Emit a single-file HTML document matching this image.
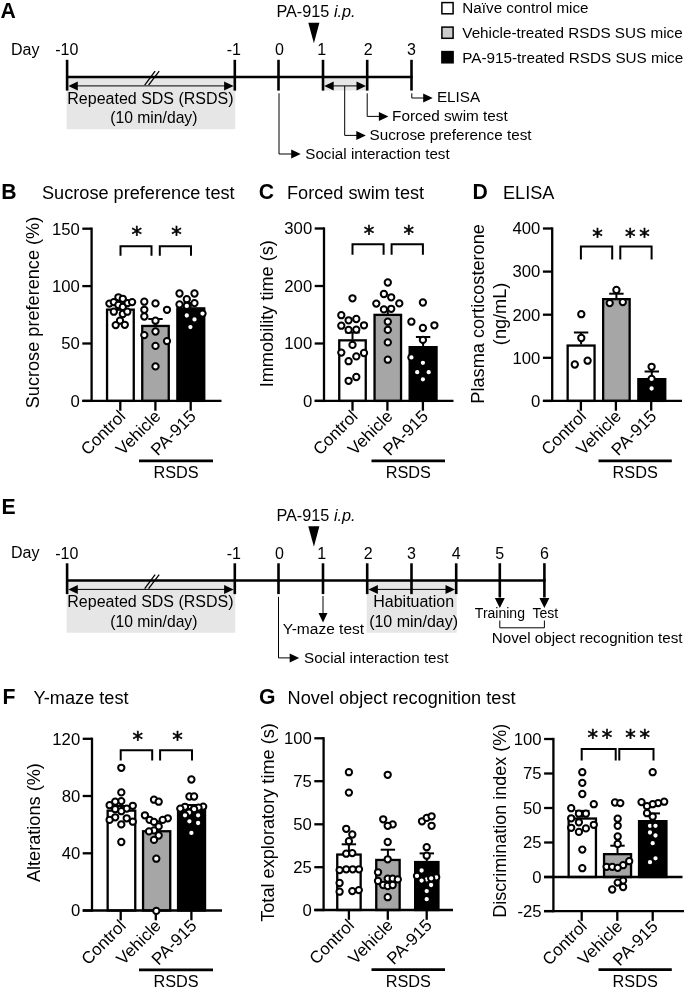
<!DOCTYPE html>
<html lang="en"><head><meta charset="utf-8"><title>Figure</title>
<style>html,body{margin:0;padding:0;background:#fff}svg{display:block}text{font-family:'Liberation Sans', sans-serif;fill:#000}</style></head><body>
<svg width="685" height="989" viewBox="0 0 685 989">
<rect width="685" height="989" fill="#fff"/>
<text x="0.60" y="18.20" font-size="21.2" text-anchor="start" font-weight="bold">A</text>
<text x="1.60" y="514.20" font-size="21.2" text-anchor="start" font-weight="bold">E</text>
<text x="11.00" y="54.70" font-size="16" text-anchor="start">Day</text>
<rect x="66.60" y="77.00" width="168.70" height="52.2" fill="#e6e6e6"/>
<rect x="323.00" y="77.00" width="44.20" height="13.5" fill="#e6e6e6"/>
<line x1="67.10" y1="77.00" x2="412.80" y2="77.00" stroke="#000" stroke-width="2.7"/>
<line x1="67.10" y1="59.80" x2="67.10" y2="90.60" stroke="#000" stroke-width="2.6"/>
<text x="66.80" y="55.20" font-size="16" text-anchor="middle">-10</text>
<line x1="234.80" y1="59.80" x2="234.80" y2="90.60" stroke="#000" stroke-width="2.6"/>
<text x="233.80" y="55.20" font-size="16" text-anchor="middle">-1</text>
<line x1="278.50" y1="59.80" x2="278.50" y2="90.60" stroke="#000" stroke-width="2.6"/>
<text x="279.40" y="55.20" font-size="16" text-anchor="middle">0</text>
<line x1="323.00" y1="59.80" x2="323.00" y2="90.60" stroke="#000" stroke-width="2.6"/>
<text x="321.70" y="55.20" font-size="16" text-anchor="middle">1</text>
<line x1="367.20" y1="59.80" x2="367.20" y2="90.60" stroke="#000" stroke-width="2.6"/>
<text x="368.20" y="55.20" font-size="16" text-anchor="middle">2</text>
<line x1="411.50" y1="59.80" x2="411.50" y2="90.60" stroke="#000" stroke-width="2.6"/>
<text x="411.50" y="55.20" font-size="16" text-anchor="middle">3</text>
<line x1="144.70" y1="85.20" x2="155.10" y2="71.20" stroke="#000" stroke-width="1.3"/>
<line x1="148.60" y1="85.20" x2="159.20" y2="71.20" stroke="#000" stroke-width="1.3"/>
<line x1="73.10" y1="85.90" x2="228.80" y2="85.90" stroke="#000" stroke-width="1"/>
<polygon points="68.30,85.90 77.80,81.40 77.80,90.40" fill="#000"/>
<polygon points="233.60,85.90 224.10,81.40 224.10,90.40" fill="#000"/>
<text x="150.45" y="103.70" font-size="16" text-anchor="middle">Repeated SDS (RSDS)</text>
<text x="153.85" y="123.20" font-size="15.7" text-anchor="middle">(10 min/day)</text>
<text x="276.4" y="17.00" font-size="16.25">PA-915 <tspan font-style="italic">i.p.</tspan></text>
<polygon points="308.30,22.70 319.40,22.70 313.90,43.20" fill="#000"/>
<line x1="329.00" y1="85.90" x2="361.20" y2="85.90" stroke="#000" stroke-width="1"/>
<polygon points="324.20,85.90 333.70,81.40 333.70,90.40" fill="#000"/>
<polygon points="366.00,85.90 356.50,81.40 356.50,90.40" fill="#000"/>
<polyline points="279.00,93.30 279.00,154.00 292.50,154.00" fill="none" stroke="#000" stroke-width="1"/>
<polygon points="300.70,154.00 291.20,149.50 291.20,158.50" fill="#000"/>
<text x="305.30" y="159.30" font-size="15.2" text-anchor="start">Social interaction test</text>
<polyline points="344.70,85.90 344.70,135.40 357.70,135.40" fill="none" stroke="#000" stroke-width="1"/>
<polygon points="365.80,135.40 356.30,130.90 356.30,139.90" fill="#000"/>
<text x="369.60" y="139.70" font-size="15.25" text-anchor="start">Sucrose preference test</text>
<polyline points="367.20,93.30 367.20,116.40 380.20,116.40" fill="none" stroke="#000" stroke-width="1"/>
<polygon points="388.40,116.40 378.90,111.90 378.90,120.90" fill="#000"/>
<text x="392.10" y="120.70" font-size="15.3" text-anchor="start">Forced swim test</text>
<polyline points="411.80,93.30 411.80,98.00 424.50,98.00" fill="none" stroke="#000" stroke-width="1"/>
<polygon points="432.70,98.00 423.20,93.50 423.20,102.50" fill="#000"/>
<text x="436.90" y="101.90" font-size="15.3" text-anchor="start">ELISA</text>
<text x="11.00" y="558.20" font-size="16" text-anchor="start">Day</text>
<rect x="66.60" y="580.50" width="168.70" height="52.2" fill="#e6e6e6"/>
<rect x="366.70" y="580.50" width="90.00" height="52.2" fill="#e6e6e6"/>
<line x1="67.10" y1="580.50" x2="545.70" y2="580.50" stroke="#000" stroke-width="2.7"/>
<line x1="67.10" y1="563.30" x2="67.10" y2="594.10" stroke="#000" stroke-width="2.6"/>
<text x="66.80" y="558.70" font-size="16" text-anchor="middle">-10</text>
<line x1="234.80" y1="563.30" x2="234.80" y2="594.10" stroke="#000" stroke-width="2.6"/>
<text x="233.80" y="558.70" font-size="16" text-anchor="middle">-1</text>
<line x1="278.50" y1="563.30" x2="278.50" y2="594.10" stroke="#000" stroke-width="2.6"/>
<text x="279.40" y="558.70" font-size="16" text-anchor="middle">0</text>
<line x1="323.00" y1="563.30" x2="323.00" y2="594.10" stroke="#000" stroke-width="2.6"/>
<text x="321.70" y="558.70" font-size="16" text-anchor="middle">1</text>
<line x1="367.20" y1="563.30" x2="367.20" y2="594.10" stroke="#000" stroke-width="2.6"/>
<text x="368.20" y="558.70" font-size="16" text-anchor="middle">2</text>
<line x1="411.50" y1="563.30" x2="411.50" y2="594.10" stroke="#000" stroke-width="2.6"/>
<text x="411.50" y="558.70" font-size="16" text-anchor="middle">3</text>
<line x1="456.20" y1="563.30" x2="456.20" y2="594.10" stroke="#000" stroke-width="2.6"/>
<text x="456.20" y="558.70" font-size="16" text-anchor="middle">4</text>
<line x1="499.80" y1="563.20" x2="499.80" y2="597.50" stroke="#000" stroke-width="2.6"/>
<text x="499.80" y="558.70" font-size="16" text-anchor="middle">5</text>
<line x1="544.40" y1="563.20" x2="544.40" y2="597.50" stroke="#000" stroke-width="2.6"/>
<text x="544.40" y="558.70" font-size="16" text-anchor="middle">6</text>
<line x1="144.70" y1="588.70" x2="155.10" y2="574.70" stroke="#000" stroke-width="1.3"/>
<line x1="148.60" y1="588.70" x2="159.20" y2="574.70" stroke="#000" stroke-width="1.3"/>
<line x1="73.10" y1="589.40" x2="228.80" y2="589.40" stroke="#000" stroke-width="1"/>
<polygon points="68.30,589.40 77.80,584.90 77.80,593.90" fill="#000"/>
<polygon points="233.60,589.40 224.10,584.90 224.10,593.90" fill="#000"/>
<text x="150.45" y="607.20" font-size="16" text-anchor="middle">Repeated SDS (RSDS)</text>
<text x="153.85" y="626.70" font-size="15.7" text-anchor="middle">(10 min/day)</text>
<text x="276.4" y="520.50" font-size="16.25">PA-915 <tspan font-style="italic">i.p.</tspan></text>
<polygon points="308.30,526.20 319.40,526.20 313.90,546.70" fill="#000"/>
<line x1="373.20" y1="589.40" x2="450.20" y2="589.40" stroke="#000" stroke-width="1"/>
<polygon points="368.40,589.40 377.90,584.90 377.90,593.90" fill="#000"/>
<polygon points="455.00,589.40 445.50,584.90 445.50,593.90" fill="#000"/>
<text x="413.70" y="607.20" font-size="16" text-anchor="middle">Habituation</text>
<text x="413.60" y="626.70" font-size="16" text-anchor="middle">(10 min/day)</text>
<line x1="323.00" y1="596.00" x2="323.00" y2="614.50" stroke="#000" stroke-width="1"/>
<polygon points="323.00,622.50 318.50,613.00 327.50,613.00" fill="#000"/>
<text x="282.80" y="634.00" font-size="15.5" text-anchor="start">Y-maze test</text>
<polyline points="278.50,596.80 278.50,657.90 291.50,657.90" fill="none" stroke="#000" stroke-width="1"/>
<polygon points="299.20,657.90 289.70,653.40 289.70,662.40" fill="#000"/>
<text x="304.00" y="662.80" font-size="15.2" text-anchor="start">Social interaction test</text>
<polygon points="499.80,607.90 494.80,597.90 504.80,597.90" fill="#000"/>
<polygon points="544.40,607.90 539.40,597.90 549.40,597.90" fill="#000"/>
<text x="499.90" y="618.20" font-size="14" text-anchor="middle">Training</text>
<text x="545.30" y="618.20" font-size="14" text-anchor="middle">Test</text>
<polyline points="499.80,620.50 499.80,627.80 544.40,627.80 544.40,620.50" fill="none" stroke="#000" stroke-width="1"/>
<text x="491.80" y="643.00" font-size="15.2" text-anchor="start">Novel object recognition test</text>
<rect x="441.9" y="2.60" width="11.2" height="11.2" fill="#fff" stroke="#000" stroke-width="1.5"/>
<text x="462.30" y="13.20" font-size="15.25" text-anchor="start">Naïve control mice</text>
<rect x="441.9" y="27.10" width="11.2" height="11.2" fill="#ccc" stroke="#000" stroke-width="1.5"/>
<text x="462.30" y="37.90" font-size="15.25" text-anchor="start">Vehicle-treated RSDS SUS mice</text>
<rect x="441.9" y="51.60" width="11.2" height="11.2" fill="#000" stroke="#000" stroke-width="1.5"/>
<text x="462.30" y="62.60" font-size="15.25" text-anchor="start">PA-915-treated RSDS SUS mice</text>
<text x="1.20" y="199.00" font-size="21.2" text-anchor="start" font-weight="bold">B</text>
<text x="42.00" y="199.00" font-size="18.15" text-anchor="start">Sucrose preference test</text>
<text transform="translate(39.30,312.50) rotate(-90)" font-size="18.15" text-anchor="middle">Sucrose preference (%)</text>
<rect x="107.05" y="309.65" width="26.70" height="91.25" fill="#fff" stroke="#000" stroke-width="2.3"/>
<rect x="142.25" y="325.95" width="26.50" height="74.95" fill="#a6a6a6" stroke="#000" stroke-width="2.3"/>
<rect x="177.35" y="308.35" width="26.90" height="92.55" fill="#000" stroke="#000" stroke-width="2.3"/>
<line x1="120.40" y1="305.00" x2="120.40" y2="308.50" stroke="#000" stroke-width="2"/>
<line x1="113.20" y1="305.00" x2="127.60" y2="305.00" stroke="#000" stroke-width="2"/>
<line x1="155.50" y1="319.00" x2="155.50" y2="325.00" stroke="#000" stroke-width="2"/>
<line x1="148.30" y1="319.00" x2="162.70" y2="319.00" stroke="#000" stroke-width="2"/>
<line x1="190.80" y1="303.00" x2="190.80" y2="307.50" stroke="#000" stroke-width="2"/>
<line x1="183.60" y1="303.00" x2="198.00" y2="303.00" stroke="#000" stroke-width="2"/>
<line x1="91.60" y1="227.55" x2="91.60" y2="402.05" stroke="#000" stroke-width="2.3"/>
<line x1="82.30" y1="400.90" x2="221.50" y2="400.90" stroke="#000" stroke-width="2.3"/>
<line x1="82.30" y1="228.70" x2="91.60" y2="228.70" stroke="#000" stroke-width="2.3"/>
<text x="79.80" y="234.50" font-size="16.7" text-anchor="end">150</text>
<line x1="82.30" y1="286.10" x2="91.60" y2="286.10" stroke="#000" stroke-width="2.3"/>
<text x="79.80" y="291.90" font-size="16.7" text-anchor="end">100</text>
<line x1="82.30" y1="343.50" x2="91.60" y2="343.50" stroke="#000" stroke-width="2.3"/>
<text x="79.80" y="349.30" font-size="16.7" text-anchor="end">50</text>
<line x1="82.30" y1="400.90" x2="91.60" y2="400.90" stroke="#000" stroke-width="2.3"/>
<text x="79.80" y="406.70" font-size="16.7" text-anchor="end">0</text>
<line x1="120.30" y1="400.90" x2="120.30" y2="410.70" stroke="#000" stroke-width="2.3"/>
<line x1="155.40" y1="400.90" x2="155.40" y2="410.70" stroke="#000" stroke-width="2.3"/>
<line x1="190.70" y1="400.90" x2="190.70" y2="410.70" stroke="#000" stroke-width="2.3"/>
<g fill="#fff" stroke="#000" stroke-width="2.0">
<circle cx="109.4" cy="303.6" r="3.15"/>
<circle cx="113.8" cy="302.1" r="3.15"/>
<circle cx="118.4" cy="297.3" r="3.15"/>
<circle cx="122.8" cy="298.8" r="3.15"/>
<circle cx="118.4" cy="305.0" r="3.15"/>
<circle cx="122.8" cy="306.9" r="3.15"/>
<circle cx="127.6" cy="303.1" r="3.15"/>
<circle cx="132.1" cy="302.1" r="3.15"/>
<circle cx="113.8" cy="311.7" r="3.15"/>
<circle cx="122.8" cy="314.0" r="3.15"/>
<circle cx="127.3" cy="311.7" r="3.15"/>
<circle cx="120.0" cy="320.7" r="3.15"/>
<circle cx="115.7" cy="325.1" r="3.15"/>
<circle cx="124.8" cy="324.8" r="3.15"/>
<circle cx="144.3" cy="301.7" r="3.15"/>
<circle cx="155.5" cy="303.4" r="3.15"/>
<circle cx="167.0" cy="309.8" r="3.15"/>
<circle cx="144.3" cy="309.8" r="3.15"/>
<circle cx="144.3" cy="316.5" r="3.15"/>
<circle cx="155.5" cy="320.7" r="3.15"/>
<circle cx="144.3" cy="335.1" r="3.15"/>
<circle cx="155.5" cy="331.5" r="3.15"/>
<circle cx="167.0" cy="341.1" r="3.15"/>
<circle cx="155.5" cy="345.9" r="3.15"/>
<circle cx="155.5" cy="366.4" r="3.15"/>
<circle cx="179.5" cy="293.5" r="3.15"/>
<circle cx="194.5" cy="293.5" r="3.15"/>
<circle cx="186.8" cy="299.2" r="3.15"/>
<circle cx="194.5" cy="303.1" r="3.15"/>
<circle cx="179.5" cy="304.4" r="3.15"/>
<circle cx="186.8" cy="305.9" r="3.15"/>
<circle cx="202.5" cy="313.6" r="3.15"/>
<circle cx="186.8" cy="315.5" r="3.15"/>
<circle cx="194.5" cy="319.4" r="3.15"/>
<circle cx="190.4" cy="327.1" r="3.15"/>
</g>
<polyline points="120.50,255.80 120.50,246.30 151.50,246.30 151.50,255.80" fill="none" stroke="#000" stroke-width="2"/>
<polyline points="159.80,255.80 159.80,246.30 191.00,246.30 191.00,255.80" fill="none" stroke="#000" stroke-width="2"/>
<text x="136.70" y="242.10" font-size="21" text-anchor="middle" style="font-family:'DejaVu Sans',sans-serif" stroke="#000" stroke-width="0.55">*</text>
<text x="176.50" y="242.10" font-size="21" text-anchor="middle" style="font-family:'DejaVu Sans',sans-serif" stroke="#000" stroke-width="0.55">*</text>
<text transform="translate(126.50,417.30) rotate(-45)" font-size="17.0" text-anchor="end">Control</text>
<text transform="translate(161.60,417.30) rotate(-45)" font-size="17.0" text-anchor="end">Vehicle</text>
<text transform="translate(196.90,417.30) rotate(-45)" font-size="17.0" text-anchor="end">PA-915</text>
<line x1="139.00" y1="460.90" x2="213.00" y2="460.90" stroke="#000" stroke-width="2.7"/>
<text x="176.00" y="477.80" font-size="16.3" text-anchor="middle">RSDS</text>
<text x="258.70" y="199.00" font-size="21.2" text-anchor="start" font-weight="bold">C</text>
<text x="287.00" y="199.00" font-size="18.15" text-anchor="start">Forced swim test</text>
<text transform="translate(273.20,313.70) rotate(-90)" font-size="18.15" text-anchor="middle">Immobility time (s)</text>
<rect x="339.25" y="340.35" width="26.50" height="60.55" fill="#fff" stroke="#000" stroke-width="2.3"/>
<rect x="374.55" y="314.85" width="26.50" height="86.05" fill="#a6a6a6" stroke="#000" stroke-width="2.3"/>
<rect x="409.65" y="347.15" width="26.90" height="53.75" fill="#000" stroke="#000" stroke-width="2.3"/>
<line x1="352.50" y1="332.50" x2="352.50" y2="339.50" stroke="#000" stroke-width="2"/>
<line x1="345.30" y1="332.50" x2="359.70" y2="332.50" stroke="#000" stroke-width="2"/>
<line x1="387.80" y1="309.00" x2="387.80" y2="314.00" stroke="#000" stroke-width="2"/>
<line x1="380.60" y1="309.00" x2="395.00" y2="309.00" stroke="#000" stroke-width="2"/>
<line x1="423.10" y1="337.00" x2="423.10" y2="346.00" stroke="#000" stroke-width="2"/>
<line x1="415.90" y1="337.00" x2="430.30" y2="337.00" stroke="#000" stroke-width="2"/>
<line x1="324.00" y1="227.35" x2="324.00" y2="402.05" stroke="#000" stroke-width="2.3"/>
<line x1="314.70" y1="400.90" x2="453.50" y2="400.90" stroke="#000" stroke-width="2.3"/>
<line x1="314.70" y1="228.50" x2="324.00" y2="228.50" stroke="#000" stroke-width="2.3"/>
<text x="312.20" y="234.30" font-size="16.7" text-anchor="end">300</text>
<line x1="314.70" y1="286.00" x2="324.00" y2="286.00" stroke="#000" stroke-width="2.3"/>
<text x="312.20" y="291.80" font-size="16.7" text-anchor="end">200</text>
<line x1="314.70" y1="343.50" x2="324.00" y2="343.50" stroke="#000" stroke-width="2.3"/>
<text x="312.20" y="349.30" font-size="16.7" text-anchor="end">100</text>
<line x1="314.70" y1="400.90" x2="324.00" y2="400.90" stroke="#000" stroke-width="2.3"/>
<text x="312.20" y="406.70" font-size="16.7" text-anchor="end">0</text>
<line x1="352.50" y1="400.90" x2="352.50" y2="410.70" stroke="#000" stroke-width="2.3"/>
<line x1="387.40" y1="400.90" x2="387.40" y2="410.70" stroke="#000" stroke-width="2.3"/>
<line x1="422.90" y1="400.90" x2="422.90" y2="410.70" stroke="#000" stroke-width="2.3"/>
<g fill="#fff" stroke="#000" stroke-width="2.0">
<circle cx="352.5" cy="298.3" r="3.15"/>
<circle cx="341.3" cy="315.2" r="3.15"/>
<circle cx="348.6" cy="320.3" r="3.15"/>
<circle cx="356.3" cy="319.0" r="3.15"/>
<circle cx="341.3" cy="325.7" r="3.15"/>
<circle cx="364.0" cy="325.3" r="3.15"/>
<circle cx="348.6" cy="329.9" r="3.15"/>
<circle cx="356.3" cy="329.6" r="3.15"/>
<circle cx="352.5" cy="344.9" r="3.15"/>
<circle cx="341.3" cy="352.6" r="3.15"/>
<circle cx="364.0" cy="353.0" r="3.15"/>
<circle cx="356.3" cy="356.4" r="3.15"/>
<circle cx="348.6" cy="361.2" r="3.15"/>
<circle cx="356.3" cy="377.0" r="3.15"/>
<circle cx="348.6" cy="380.8" r="3.15"/>
<circle cx="387.8" cy="282.5" r="3.15"/>
<circle cx="383.9" cy="294.0" r="3.15"/>
<circle cx="391.2" cy="297.3" r="3.15"/>
<circle cx="376.3" cy="303.6" r="3.15"/>
<circle cx="399.3" cy="303.4" r="3.15"/>
<circle cx="383.9" cy="309.4" r="3.15"/>
<circle cx="391.2" cy="308.8" r="3.15"/>
<circle cx="387.8" cy="321.7" r="3.15"/>
<circle cx="387.8" cy="329.9" r="3.15"/>
<circle cx="387.8" cy="342.4" r="3.15"/>
<circle cx="387.8" cy="359.7" r="3.15"/>
<circle cx="422.9" cy="302.5" r="3.15"/>
<circle cx="411.4" cy="321.7" r="3.15"/>
<circle cx="434.4" cy="325.3" r="3.15"/>
<circle cx="422.9" cy="328.0" r="3.15"/>
<circle cx="422.9" cy="339.9" r="3.15"/>
<circle cx="411.4" cy="357.4" r="3.15"/>
<circle cx="422.9" cy="362.8" r="3.15"/>
<circle cx="417.2" cy="372.2" r="3.15"/>
<circle cx="428.7" cy="372.2" r="3.15"/>
<circle cx="422.9" cy="379.3" r="3.15"/>
</g>
<polyline points="352.50,254.80 352.50,244.20 383.60,244.20 383.60,254.80" fill="none" stroke="#000" stroke-width="2"/>
<polyline points="391.60,254.80 391.60,244.20 422.90,244.20 422.90,254.80" fill="none" stroke="#000" stroke-width="2"/>
<text x="368.90" y="241.30" font-size="21" text-anchor="middle" style="font-family:'DejaVu Sans',sans-serif" stroke="#000" stroke-width="0.55">*</text>
<text x="408.80" y="241.30" font-size="21" text-anchor="middle" style="font-family:'DejaVu Sans',sans-serif" stroke="#000" stroke-width="0.55">*</text>
<text transform="translate(358.70,417.30) rotate(-45)" font-size="17.0" text-anchor="end">Control</text>
<text transform="translate(393.60,417.30) rotate(-45)" font-size="17.0" text-anchor="end">Vehicle</text>
<text transform="translate(429.10,417.30) rotate(-45)" font-size="17.0" text-anchor="end">PA-915</text>
<line x1="371.50" y1="460.80" x2="445.00" y2="460.80" stroke="#000" stroke-width="2.7"/>
<text x="408.25" y="477.70" font-size="16.3" text-anchor="middle">RSDS</text>
<text x="472.40" y="199.00" font-size="21.2" text-anchor="start" font-weight="bold">D</text>
<text x="503.00" y="199.00" font-size="18.15" text-anchor="start">ELISA</text>
<text transform="translate(484.20,313.90) rotate(-90)" font-size="18.15" text-anchor="middle">Plasma corticosterone</text>
<text transform="translate(505.80,313.90) rotate(-90)" font-size="18.15" text-anchor="middle">(ng/mL)</text>
<rect x="567.65" y="345.55" width="26.90" height="55.35" fill="#fff" stroke="#000" stroke-width="2.3"/>
<rect x="603.15" y="299.15" width="26.50" height="101.75" fill="#a6a6a6" stroke="#000" stroke-width="2.3"/>
<rect x="638.35" y="379.15" width="26.90" height="21.75" fill="#000" stroke="#000" stroke-width="2.3"/>
<line x1="581.10" y1="332.50" x2="581.10" y2="344.50" stroke="#000" stroke-width="2"/>
<line x1="573.90" y1="332.50" x2="588.30" y2="332.50" stroke="#000" stroke-width="2"/>
<line x1="616.40" y1="293.70" x2="616.40" y2="298.50" stroke="#000" stroke-width="2"/>
<line x1="609.20" y1="293.70" x2="623.60" y2="293.70" stroke="#000" stroke-width="2"/>
<line x1="651.80" y1="371.50" x2="651.80" y2="378.00" stroke="#000" stroke-width="2"/>
<line x1="644.60" y1="371.50" x2="659.00" y2="371.50" stroke="#000" stroke-width="2"/>
<line x1="552.20" y1="227.35" x2="552.20" y2="402.05" stroke="#000" stroke-width="2.3"/>
<line x1="542.90" y1="400.90" x2="682.00" y2="400.90" stroke="#000" stroke-width="2.3"/>
<line x1="542.90" y1="228.50" x2="552.20" y2="228.50" stroke="#000" stroke-width="2.3"/>
<text x="540.40" y="234.30" font-size="16.7" text-anchor="end">400</text>
<line x1="542.90" y1="271.60" x2="552.20" y2="271.60" stroke="#000" stroke-width="2.3"/>
<text x="540.40" y="277.40" font-size="16.7" text-anchor="end">300</text>
<line x1="542.90" y1="314.70" x2="552.20" y2="314.70" stroke="#000" stroke-width="2.3"/>
<text x="540.40" y="320.50" font-size="16.7" text-anchor="end">200</text>
<line x1="542.90" y1="357.80" x2="552.20" y2="357.80" stroke="#000" stroke-width="2.3"/>
<text x="540.40" y="363.60" font-size="16.7" text-anchor="end">100</text>
<line x1="542.90" y1="400.90" x2="552.20" y2="400.90" stroke="#000" stroke-width="2.3"/>
<text x="540.40" y="406.70" font-size="16.7" text-anchor="end">0</text>
<line x1="580.90" y1="400.90" x2="580.90" y2="410.70" stroke="#000" stroke-width="2.3"/>
<line x1="615.90" y1="400.90" x2="615.90" y2="410.70" stroke="#000" stroke-width="2.3"/>
<line x1="651.20" y1="400.90" x2="651.20" y2="410.70" stroke="#000" stroke-width="2.3"/>
<g fill="#fff" stroke="#000" stroke-width="2.0">
<circle cx="581.3" cy="314.2" r="3.15"/>
<circle cx="581.3" cy="338.0" r="3.15"/>
<circle cx="587.6" cy="360.7" r="3.15"/>
<circle cx="574.8" cy="364.5" r="3.15"/>
<circle cx="616.4" cy="290.0" r="3.15"/>
<circle cx="609.7" cy="303.1" r="3.15"/>
<circle cx="622.8" cy="302.1" r="3.15"/>
<circle cx="651.6" cy="366.8" r="3.15"/>
<circle cx="651.6" cy="378.9" r="3.15"/>
<circle cx="651.6" cy="388.5" r="3.15"/>
</g>
<polyline points="580.90,259.60 580.90,246.50 612.20,246.50 612.20,259.60" fill="none" stroke="#000" stroke-width="2"/>
<polyline points="620.30,259.60 620.30,246.50 651.60,246.50 651.60,259.60" fill="none" stroke="#000" stroke-width="2"/>
<text x="597.50" y="243.50" font-size="21" text-anchor="middle" style="font-family:'DejaVu Sans',sans-serif" stroke="#000" stroke-width="0.55">*</text>
<text x="630.25" y="243.50" font-size="21" text-anchor="middle" style="font-family:'DejaVu Sans',sans-serif" stroke="#000" stroke-width="0.55">*</text>
<text x="644.55" y="243.50" font-size="21" text-anchor="middle" style="font-family:'DejaVu Sans',sans-serif" stroke="#000" stroke-width="0.55">*</text>
<text transform="translate(587.10,417.30) rotate(-45)" font-size="17.0" text-anchor="end">Control</text>
<text transform="translate(622.10,417.30) rotate(-45)" font-size="17.0" text-anchor="end">Vehicle</text>
<text transform="translate(657.40,417.30) rotate(-45)" font-size="17.0" text-anchor="end">PA-915</text>
<line x1="598.50" y1="460.90" x2="671.80" y2="460.90" stroke="#000" stroke-width="2.7"/>
<text x="635.15" y="477.80" font-size="16.3" text-anchor="middle">RSDS</text>
<text x="2.40" y="703.50" font-size="21.2" text-anchor="start" font-weight="bold">F</text>
<text x="33.40" y="703.50" font-size="18.15" text-anchor="start">Y-maze test</text>
<text transform="translate(39.90,822.60) rotate(-90)" font-size="18.15" text-anchor="middle">Alterations (%)</text>
<rect x="107.65" y="810.65" width="27.60" height="99.85" fill="#fff" stroke="#000" stroke-width="2.3"/>
<rect x="143.05" y="831.25" width="27.20" height="79.25" fill="#a6a6a6" stroke="#000" stroke-width="2.3"/>
<rect x="178.05" y="809.05" width="27.00" height="101.45" fill="#000" stroke="#000" stroke-width="2.3"/>
<line x1="121.40" y1="806.00" x2="121.40" y2="809.50" stroke="#000" stroke-width="2"/>
<line x1="114.20" y1="806.00" x2="128.60" y2="806.00" stroke="#000" stroke-width="2"/>
<line x1="156.60" y1="821.50" x2="156.60" y2="830.50" stroke="#000" stroke-width="2"/>
<line x1="149.40" y1="821.50" x2="163.80" y2="821.50" stroke="#000" stroke-width="2"/>
<line x1="191.50" y1="805.00" x2="191.50" y2="808.00" stroke="#000" stroke-width="2"/>
<line x1="184.30" y1="805.00" x2="198.70" y2="805.00" stroke="#000" stroke-width="2"/>
<line x1="92.00" y1="737.65" x2="92.00" y2="911.65" stroke="#000" stroke-width="2.3"/>
<line x1="82.70" y1="910.50" x2="222.00" y2="910.50" stroke="#000" stroke-width="2.3"/>
<line x1="82.70" y1="738.80" x2="92.00" y2="738.80" stroke="#000" stroke-width="2.3"/>
<text x="80.20" y="744.60" font-size="16.7" text-anchor="end">120</text>
<line x1="82.70" y1="796.00" x2="92.00" y2="796.00" stroke="#000" stroke-width="2.3"/>
<text x="80.20" y="801.80" font-size="16.7" text-anchor="end">80</text>
<line x1="82.70" y1="853.30" x2="92.00" y2="853.30" stroke="#000" stroke-width="2.3"/>
<text x="80.20" y="859.10" font-size="16.7" text-anchor="end">40</text>
<line x1="82.70" y1="910.50" x2="92.00" y2="910.50" stroke="#000" stroke-width="2.3"/>
<text x="80.20" y="916.30" font-size="16.7" text-anchor="end">0</text>
<line x1="120.70" y1="910.50" x2="120.70" y2="920.30" stroke="#000" stroke-width="2.3"/>
<line x1="155.80" y1="910.50" x2="155.80" y2="920.30" stroke="#000" stroke-width="2.3"/>
<line x1="191.40" y1="910.50" x2="191.40" y2="920.30" stroke="#000" stroke-width="2.3"/>
<g fill="#fff" stroke="#000" stroke-width="2.0">
<circle cx="121.3" cy="767.8" r="3.15"/>
<circle cx="121.3" cy="792.4" r="3.15"/>
<circle cx="121.3" cy="801.1" r="3.15"/>
<circle cx="115.2" cy="801.7" r="3.15"/>
<circle cx="109.6" cy="805.2" r="3.15"/>
<circle cx="132.8" cy="805.8" r="3.15"/>
<circle cx="115.2" cy="809.2" r="3.15"/>
<circle cx="126.7" cy="808.6" r="3.15"/>
<circle cx="121.3" cy="811.2" r="3.15"/>
<circle cx="115.2" cy="817.3" r="3.15"/>
<circle cx="126.7" cy="818.3" r="3.15"/>
<circle cx="109.6" cy="819.9" r="3.15"/>
<circle cx="132.8" cy="821.7" r="3.15"/>
<circle cx="121.3" cy="824.4" r="3.15"/>
<circle cx="121.3" cy="842.0" r="3.15"/>
<circle cx="154.0" cy="799.7" r="3.15"/>
<circle cx="158.7" cy="801.7" r="3.15"/>
<circle cx="144.9" cy="815.3" r="3.15"/>
<circle cx="167.8" cy="818.3" r="3.15"/>
<circle cx="162.7" cy="819.9" r="3.15"/>
<circle cx="149.6" cy="819.9" r="3.15"/>
<circle cx="154.0" cy="821.9" r="3.15"/>
<circle cx="158.7" cy="826.4" r="3.15"/>
<circle cx="154.0" cy="830.4" r="3.15"/>
<circle cx="149.0" cy="831.4" r="3.15"/>
<circle cx="158.7" cy="835.5" r="3.15"/>
<circle cx="154.0" cy="839.9" r="3.15"/>
<circle cx="156.3" cy="858.7" r="3.15"/>
<circle cx="156.3" cy="910.9" r="3.15"/>
<circle cx="191.4" cy="779.5" r="3.15"/>
<circle cx="189.4" cy="796.5" r="3.15"/>
<circle cx="194.1" cy="796.5" r="3.15"/>
<circle cx="203.2" cy="806.6" r="3.15"/>
<circle cx="198.5" cy="807.6" r="3.15"/>
<circle cx="185.0" cy="806.8" r="3.15"/>
<circle cx="180.3" cy="808.6" r="3.15"/>
<circle cx="194.1" cy="809.2" r="3.15"/>
<circle cx="189.0" cy="812.6" r="3.15"/>
<circle cx="185.0" cy="815.3" r="3.15"/>
<circle cx="198.1" cy="815.3" r="3.15"/>
<circle cx="189.4" cy="821.3" r="3.15"/>
<circle cx="198.1" cy="823.0" r="3.15"/>
<circle cx="191.4" cy="832.9" r="3.15"/>
</g>
<polyline points="120.70,760.40 120.70,750.30 152.20,750.30 152.20,760.40" fill="none" stroke="#000" stroke-width="2"/>
<polyline points="160.10,760.40 160.10,750.30 192.00,750.30 192.00,760.40" fill="none" stroke="#000" stroke-width="2"/>
<text x="137.80" y="747.20" font-size="21" text-anchor="middle" style="font-family:'DejaVu Sans',sans-serif" stroke="#000" stroke-width="0.55">*</text>
<text x="177.60" y="747.20" font-size="21" text-anchor="middle" style="font-family:'DejaVu Sans',sans-serif" stroke="#000" stroke-width="0.55">*</text>
<text transform="translate(126.90,926.90) rotate(-45)" font-size="17.0" text-anchor="end">Control</text>
<text transform="translate(162.00,926.90) rotate(-45)" font-size="17.0" text-anchor="end">Vehicle</text>
<text transform="translate(197.60,926.90) rotate(-45)" font-size="17.0" text-anchor="end">PA-915</text>
<line x1="139.00" y1="969.80" x2="213.00" y2="969.80" stroke="#000" stroke-width="2.7"/>
<text x="176.00" y="986.70" font-size="16.3" text-anchor="middle">RSDS</text>
<text x="258.90" y="703.50" font-size="21.2" text-anchor="start" font-weight="bold">G</text>
<text x="287.60" y="703.50" font-size="18.15" text-anchor="start">Novel object recognition test</text>
<text transform="translate(274.30,822.50) rotate(-90)" font-size="18.15" text-anchor="middle">Total exploratory time (s)</text>
<rect x="337.25" y="854.55" width="23.40" height="55.45" fill="#fff" stroke="#000" stroke-width="2.3"/>
<rect x="376.25" y="859.95" width="23.40" height="50.05" fill="#a6a6a6" stroke="#000" stroke-width="2.3"/>
<rect x="415.15" y="862.05" width="23.30" height="47.95" fill="#000" stroke="#000" stroke-width="2.3"/>
<line x1="348.90" y1="844.30" x2="348.90" y2="853.50" stroke="#000" stroke-width="2"/>
<line x1="341.70" y1="844.30" x2="356.10" y2="844.30" stroke="#000" stroke-width="2"/>
<line x1="387.90" y1="849.70" x2="387.90" y2="859.00" stroke="#000" stroke-width="2"/>
<line x1="380.70" y1="849.70" x2="395.10" y2="849.70" stroke="#000" stroke-width="2"/>
<line x1="426.80" y1="853.40" x2="426.80" y2="861.00" stroke="#000" stroke-width="2"/>
<line x1="419.60" y1="853.40" x2="434.00" y2="853.40" stroke="#000" stroke-width="2"/>
<line x1="323.60" y1="737.15" x2="323.60" y2="911.15" stroke="#000" stroke-width="2.3"/>
<line x1="314.30" y1="910.00" x2="453.00" y2="910.00" stroke="#000" stroke-width="2.3"/>
<line x1="314.30" y1="738.30" x2="323.60" y2="738.30" stroke="#000" stroke-width="2.3"/>
<text x="311.80" y="744.10" font-size="16.7" text-anchor="end">100</text>
<line x1="314.30" y1="781.20" x2="323.60" y2="781.20" stroke="#000" stroke-width="2.3"/>
<text x="311.80" y="787.00" font-size="16.7" text-anchor="end">75</text>
<line x1="314.30" y1="824.30" x2="323.60" y2="824.30" stroke="#000" stroke-width="2.3"/>
<text x="311.80" y="830.10" font-size="16.7" text-anchor="end">50</text>
<line x1="314.30" y1="867.20" x2="323.60" y2="867.20" stroke="#000" stroke-width="2.3"/>
<text x="311.80" y="873.00" font-size="16.7" text-anchor="end">25</text>
<line x1="314.30" y1="910.00" x2="323.60" y2="910.00" stroke="#000" stroke-width="2.3"/>
<text x="311.80" y="915.80" font-size="16.7" text-anchor="end">0</text>
<line x1="348.90" y1="910.00" x2="348.90" y2="919.80" stroke="#000" stroke-width="2.3"/>
<line x1="387.80" y1="910.00" x2="387.80" y2="919.80" stroke="#000" stroke-width="2.3"/>
<line x1="426.70" y1="910.00" x2="426.70" y2="919.80" stroke="#000" stroke-width="2.3"/>
<g fill="#fff" stroke="#000" stroke-width="2.0">
<circle cx="348.9" cy="772.2" r="3.15"/>
<circle cx="348.9" cy="792.6" r="3.15"/>
<circle cx="346.2" cy="828.8" r="3.15"/>
<circle cx="352.3" cy="834.5" r="3.15"/>
<circle cx="348.9" cy="841.2" r="3.15"/>
<circle cx="346.2" cy="853.7" r="3.15"/>
<circle cx="352.3" cy="853.1" r="3.15"/>
<circle cx="339.6" cy="870.1" r="3.15"/>
<circle cx="346.2" cy="869.3" r="3.15"/>
<circle cx="352.7" cy="869.3" r="3.15"/>
<circle cx="359.0" cy="869.3" r="3.15"/>
<circle cx="339.6" cy="883.0" r="3.15"/>
<circle cx="339.6" cy="891.7" r="3.15"/>
<circle cx="352.3" cy="891.1" r="3.15"/>
<circle cx="358.8" cy="890.1" r="3.15"/>
<circle cx="387.7" cy="774.8" r="3.15"/>
<circle cx="383.2" cy="819.3" r="3.15"/>
<circle cx="392.7" cy="824.4" r="3.15"/>
<circle cx="387.7" cy="825.8" r="3.15"/>
<circle cx="387.7" cy="842.0" r="3.15"/>
<circle cx="387.7" cy="859.3" r="3.15"/>
<circle cx="378.0" cy="872.3" r="3.15"/>
<circle cx="378.0" cy="881.0" r="3.15"/>
<circle cx="387.7" cy="878.6" r="3.15"/>
<circle cx="392.7" cy="878.6" r="3.15"/>
<circle cx="397.8" cy="879.4" r="3.15"/>
<circle cx="383.2" cy="885.0" r="3.15"/>
<circle cx="387.7" cy="886.0" r="3.15"/>
<circle cx="392.7" cy="885.0" r="3.15"/>
<circle cx="387.7" cy="897.2" r="3.15"/>
<circle cx="422.0" cy="821.3" r="3.15"/>
<circle cx="426.7" cy="817.9" r="3.15"/>
<circle cx="431.6" cy="816.3" r="3.15"/>
<circle cx="431.6" cy="825.8" r="3.15"/>
<circle cx="426.7" cy="847.2" r="3.15"/>
<circle cx="426.7" cy="855.7" r="3.15"/>
<circle cx="421.6" cy="870.5" r="3.15"/>
<circle cx="417.0" cy="875.9" r="3.15"/>
<circle cx="436.2" cy="877.3" r="3.15"/>
<circle cx="426.7" cy="879.4" r="3.15"/>
<circle cx="421.6" cy="880.6" r="3.15"/>
<circle cx="431.1" cy="885.0" r="3.15"/>
<circle cx="426.7" cy="891.1" r="3.15"/>
<circle cx="426.7" cy="899.2" r="3.15"/>
<circle cx="431.2" cy="878.3" r="3.15"/>
</g>
<text transform="translate(355.10,926.40) rotate(-45)" font-size="17.0" text-anchor="end">Control</text>
<text transform="translate(394.00,926.40) rotate(-45)" font-size="17.0" text-anchor="end">Vehicle</text>
<text transform="translate(432.90,926.40) rotate(-45)" font-size="17.0" text-anchor="end">PA-915</text>
<line x1="371.50" y1="969.60" x2="445.00" y2="969.60" stroke="#000" stroke-width="2.7"/>
<text x="408.25" y="986.50" font-size="16.3" text-anchor="middle">RSDS</text>
<text transform="translate(506.20,820.70) rotate(-90)" font-size="18.0" text-anchor="middle">Discrimination index (%)</text>
<rect x="568.65" y="818.55" width="27.30" height="58.45" fill="#fff" stroke="#000" stroke-width="2.3"/>
<rect x="604.05" y="854.15" width="27.00" height="22.85" fill="#a6a6a6" stroke="#000" stroke-width="2.3"/>
<rect x="639.05" y="821.15" width="27.40" height="55.85" fill="#000" stroke="#000" stroke-width="2.3"/>
<line x1="582.30" y1="810.90" x2="582.30" y2="817.50" stroke="#000" stroke-width="2"/>
<line x1="575.10" y1="810.90" x2="589.50" y2="810.90" stroke="#000" stroke-width="2"/>
<line x1="617.50" y1="845.70" x2="617.50" y2="853.00" stroke="#000" stroke-width="2"/>
<line x1="610.30" y1="845.70" x2="624.70" y2="845.70" stroke="#000" stroke-width="2"/>
<line x1="652.80" y1="813.40" x2="652.80" y2="820.00" stroke="#000" stroke-width="2"/>
<line x1="645.60" y1="813.40" x2="660.00" y2="813.40" stroke="#000" stroke-width="2"/>
<line x1="553.40" y1="737.85" x2="553.40" y2="912.25" stroke="#000" stroke-width="2.3"/>
<line x1="544.10" y1="911.10" x2="684.00" y2="911.10" stroke="#000" stroke-width="2.3"/>
<line x1="544.10" y1="877.00" x2="682.50" y2="877.00" stroke="#000" stroke-width="2.3"/>
<line x1="544.10" y1="739.00" x2="553.40" y2="739.00" stroke="#000" stroke-width="2.3"/>
<text x="541.60" y="744.80" font-size="16.7" text-anchor="end">100</text>
<line x1="544.10" y1="773.50" x2="553.40" y2="773.50" stroke="#000" stroke-width="2.3"/>
<text x="541.60" y="779.30" font-size="16.7" text-anchor="end">75</text>
<line x1="544.10" y1="808.00" x2="553.40" y2="808.00" stroke="#000" stroke-width="2.3"/>
<text x="541.60" y="813.80" font-size="16.7" text-anchor="end">50</text>
<line x1="544.10" y1="842.50" x2="553.40" y2="842.50" stroke="#000" stroke-width="2.3"/>
<text x="541.60" y="848.30" font-size="16.7" text-anchor="end">25</text>
<line x1="544.10" y1="877.00" x2="553.40" y2="877.00" stroke="#000" stroke-width="2.3"/>
<text x="541.60" y="882.80" font-size="16.7" text-anchor="end">0</text>
<line x1="544.10" y1="911.10" x2="553.40" y2="911.10" stroke="#000" stroke-width="2.3"/>
<text x="541.60" y="916.90" font-size="16.7" text-anchor="end">-25</text>
<line x1="581.70" y1="911.10" x2="581.70" y2="920.90" stroke="#000" stroke-width="2.3"/>
<line x1="617.30" y1="911.10" x2="617.30" y2="920.90" stroke="#000" stroke-width="2.3"/>
<line x1="652.70" y1="911.10" x2="652.70" y2="920.90" stroke="#000" stroke-width="2.3"/>
<g fill="#fff" stroke="#000" stroke-width="2.0">
<circle cx="582.3" cy="772.2" r="3.15"/>
<circle cx="582.3" cy="782.9" r="3.15"/>
<circle cx="582.3" cy="794.0" r="3.15"/>
<circle cx="593.8" cy="804.2" r="3.15"/>
<circle cx="571.2" cy="808.2" r="3.15"/>
<circle cx="578.9" cy="813.7" r="3.15"/>
<circle cx="585.9" cy="813.7" r="3.15"/>
<circle cx="571.2" cy="818.3" r="3.15"/>
<circle cx="578.9" cy="822.3" r="3.15"/>
<circle cx="593.8" cy="824.8" r="3.15"/>
<circle cx="571.2" cy="827.8" r="3.15"/>
<circle cx="585.9" cy="828.4" r="3.15"/>
<circle cx="578.9" cy="831.9" r="3.15"/>
<circle cx="582.3" cy="849.6" r="3.15"/>
<circle cx="582.3" cy="868.2" r="3.15"/>
<circle cx="615.0" cy="802.5" r="3.15"/>
<circle cx="620.3" cy="803.1" r="3.15"/>
<circle cx="617.7" cy="818.7" r="3.15"/>
<circle cx="617.7" cy="825.8" r="3.15"/>
<circle cx="617.7" cy="836.5" r="3.15"/>
<circle cx="617.7" cy="844.0" r="3.15"/>
<circle cx="629.2" cy="861.2" r="3.15"/>
<circle cx="623.1" cy="865.2" r="3.15"/>
<circle cx="606.6" cy="866.8" r="3.15"/>
<circle cx="612.2" cy="866.8" r="3.15"/>
<circle cx="617.7" cy="867.8" r="3.15"/>
<circle cx="623.1" cy="880.6" r="3.15"/>
<circle cx="617.7" cy="882.6" r="3.15"/>
<circle cx="623.1" cy="887.0" r="3.15"/>
<circle cx="612.2" cy="889.5" r="3.15"/>
<circle cx="652.7" cy="772.2" r="3.15"/>
<circle cx="641.5" cy="802.1" r="3.15"/>
<circle cx="664.2" cy="801.7" r="3.15"/>
<circle cx="658.1" cy="803.1" r="3.15"/>
<circle cx="652.7" cy="804.2" r="3.15"/>
<circle cx="647.0" cy="806.2" r="3.15"/>
<circle cx="647.0" cy="813.2" r="3.15"/>
<circle cx="652.7" cy="816.7" r="3.15"/>
<circle cx="650.0" cy="825.8" r="3.15"/>
<circle cx="655.5" cy="825.8" r="3.15"/>
<circle cx="650.0" cy="832.5" r="3.15"/>
<circle cx="655.5" cy="835.5" r="3.15"/>
<circle cx="652.7" cy="843.2" r="3.15"/>
<circle cx="655.5" cy="858.3" r="3.15"/>
<circle cx="650.0" cy="862.2" r="3.15"/>
</g>
<polyline points="581.70,760.40 581.70,748.90 615.70,748.90 615.70,760.40" fill="none" stroke="#000" stroke-width="2"/>
<polyline points="619.30,760.40 619.30,748.90 653.50,748.90 653.50,760.40" fill="none" stroke="#000" stroke-width="2"/>
<text x="592.65" y="745.00" font-size="21" text-anchor="middle" style="font-family:'DejaVu Sans',sans-serif" stroke="#000" stroke-width="0.55">*</text>
<text x="606.95" y="745.00" font-size="21" text-anchor="middle" style="font-family:'DejaVu Sans',sans-serif" stroke="#000" stroke-width="0.55">*</text>
<text x="630.55" y="745.00" font-size="21" text-anchor="middle" style="font-family:'DejaVu Sans',sans-serif" stroke="#000" stroke-width="0.55">*</text>
<text x="644.85" y="745.00" font-size="21" text-anchor="middle" style="font-family:'DejaVu Sans',sans-serif" stroke="#000" stroke-width="0.55">*</text>
<text transform="translate(587.90,927.50) rotate(-45)" font-size="17.0" text-anchor="end">Control</text>
<text transform="translate(623.50,927.50) rotate(-45)" font-size="17.0" text-anchor="end">Vehicle</text>
<text transform="translate(658.90,927.50) rotate(-45)" font-size="17.0" text-anchor="end">PA-915</text>
<line x1="598.50" y1="969.60" x2="671.80" y2="969.60" stroke="#000" stroke-width="2.7"/>
<text x="635.15" y="986.50" font-size="16.3" text-anchor="middle">RSDS</text>
</svg></body></html>
